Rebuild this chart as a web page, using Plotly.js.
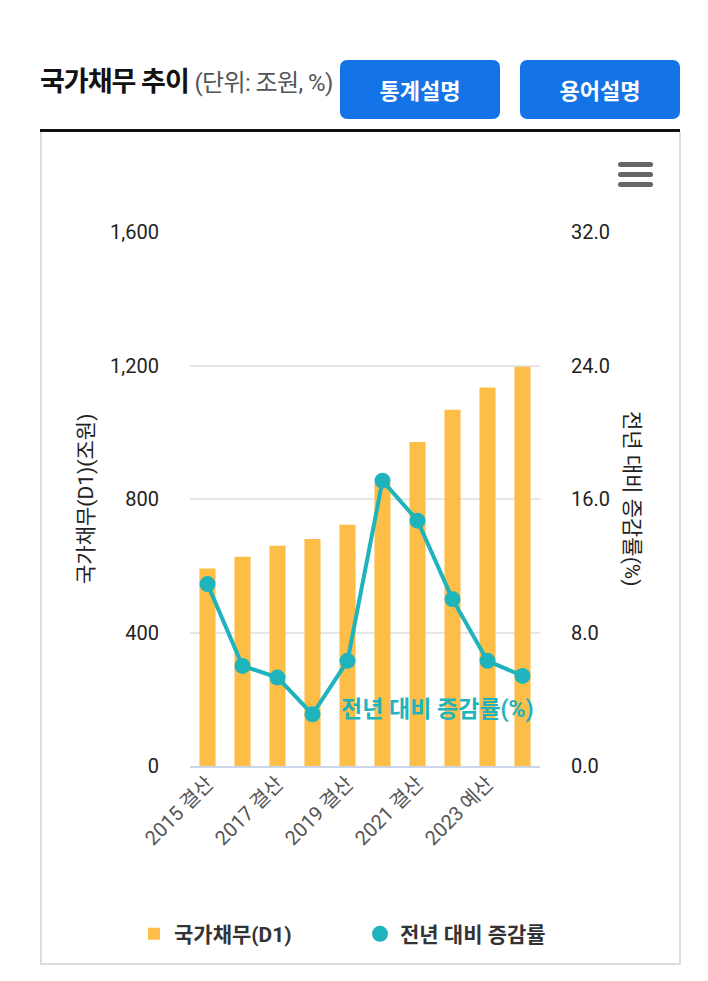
<!DOCTYPE html>
<html>
<head>
<meta charset="utf-8">
<script src="https://cdn.plot.ly/plotly-3.0.1.min.js"></script>
<style>
  body { margin: 0; background: #fff; font-family: Roboto, "Noto Sans CJK KR", sans-serif; }
  #page { position: relative; width: 708px; height: 981px; overflow: hidden; }
  .title { position: absolute; left: 40px; top: 60px; font-size: 27px; font-weight: bold; color: #111; letter-spacing: -1px; }
  .title span { font-size: 24px; font-weight: normal; color: #555; letter-spacing: -0.6px; }
  .btn { position: absolute; top: 60px; width: 160px; height: 59px; background: #1473e6; border-radius: 7px;
         color: #fff; font-size: 22px; font-weight: bold; text-align: center; line-height: 64px; }
  .rule { position: absolute; left: 40px; top: 129px; width: 640px; height: 3px; background: #111; }
  .box { position: absolute; left: 40px; top: 132px; width: 637px; height: 831px; border: 2px solid #ddd; border-top: none; }
  .menu { position: absolute; left: 618px; width: 35px; height: 5px; border-radius: 3px; background: #666; }
  #chart { position: absolute; left: 0; top: 0; width: 708px; height: 981px; }
</style>
</head>
<body>
<div id="page">
  <div class="title">국가채무 추이 <span>(단위: 조원, %)</span></div>
  <div class="btn" style="left:340px">통계설명</div>
  <div class="btn" style="left:520px">용어설명</div>
  <div class="rule"></div>
  <div class="box"></div>
  <div class="menu" style="top:162px"></div>
  <div class="menu" style="top:172px"></div>
  <div class="menu" style="top:182px"></div>
  <div id="chart"></div>
</div>
<script>
// 국가채무(D1), 조원
const years = ["2015 결산", "2016 결산", "2017 결산", "2018 결산", "2019 결산",
               "2020 결산", "2021 결산", "2022 결산", "2023 예산", "2024 예산"];
const debt = [591.5, 626.9, 660.2, 680.5, 723.2, 846.6, 970.7, 1067.4, 1134.4, 1196.2];
// 전년 대비 증감률, %
const growth = [10.9, 6.0, 5.3, 3.1, 6.3, 17.1, 14.7, 10.0, 6.3, 5.4];
const tickYears = ["2015 결산", "2017 결산", "2019 결산", "2021 결산", "2023 예산"];

const barColor = "#fdbe48";
const lineColor = "#1fb3bc";

const debtTrace = {
  x: years,
  y: debt,
  type: "bar",
  name: "국가채무(D1)",
  marker: { color: barColor },
  hoverinfo: "x+y",
};

const growthTrace = {
  x: years,
  y: growth,
  type: "scatter",
  mode: "lines+markers",
  yaxis: "y2",
  name: "전년 대비 증감률",
  showlegend: false,
  line: { color: lineColor, width: 4 },
  marker: { color: lineColor, size: 16 },
};

// legend entry only (circle symbol, no line)
const growthLegend = {
  x: [null],
  y: [null],
  type: "scatter",
  mode: "markers",
  yaxis: "y2",
  name: "전년 대비 증감률",
  marker: { color: lineColor, size: 16 },
};

const layout = {
  width: 708,
  height: 981,
  margin: { l: 0, r: 0, t: 232, b: 215 },
  paper_bgcolor: "rgba(0,0,0,0)",
  plot_bgcolor: "rgba(0,0,0,0)",
  font: { family: "Roboto, 'Noto Sans CJK KR', sans-serif", color: "#222" },
  bargap: 0.54,
  xaxis: {
    type: "category",
    domain: [190 / 708, 540 / 708],
    range: [-0.5, years.length - 0.5],
    tickvals: tickYears,
    ticktext: tickYears,
    tickangle: -45,
    tickfont: { size: 20, color: "#555" },
    ticklabelstandoff: -4,
    showline: true,
    linecolor: "#ccd6eb",
    linewidth: 2,
    ticks: "",
    showgrid: false,
    fixedrange: true,
  },
  yaxis: {
    range: [0, 1600],
    dtick: 400,
    tickformat: ",",
    tickfont: { size: 20, color: "#222" },
    gridcolor: "#e6e6e6",
    gridwidth: 1.5,
    zeroline: false,
    ticklabelstandoff: 30,
    fixedrange: true,
  },
  yaxis2: {
    overlaying: "y",
    side: "right",
    anchor: "x",
    range: [0, 32],
    dtick: 8,
    tickformat: ".1f",
    tickfont: { size: 20, color: "#222" },
    showgrid: false,
    zeroline: false,
    ticklabelstandoff: 30,
    fixedrange: true,
  },
  legend: {
    orientation: "h",
    x: 134 / 708,
    xanchor: "left",
    y: -0.315,
    yanchor: "middle",
    entrywidth: 181,
    itemwidth: 30,
    font: { size: 21, color: "#333", weight: "bold" },
    itemclick: false,
  },
  annotations: [
    {
      text: "국가채무(D1)(조원)",
      xref: "paper", yref: "paper",
      x: 72 / 708, y: 0.5,
      textangle: -90,
      showarrow: false,
      font: { size: 21, color: "#222" },
    },
    {
      text: "전년 대비 증감률(%)",
      xref: "paper", yref: "paper",
      x: 646 / 708, y: 0.5,
      textangle: 90,
      showarrow: false,
      font: { size: 21, color: "#222" },
    },
    {
      text: "<b>전년 대비 증감률(%)</b>",
      xref: "x", yref: "y2",
      x: 6.56, y: 3.4,
      showarrow: false,
      font: { size: 23, color: lineColor },
    },
  ],
};

Plotly.newPlot("chart", [debtTrace, growthTrace, growthLegend], layout, { displayModeBar: false });
</script>
</body>
</html>
